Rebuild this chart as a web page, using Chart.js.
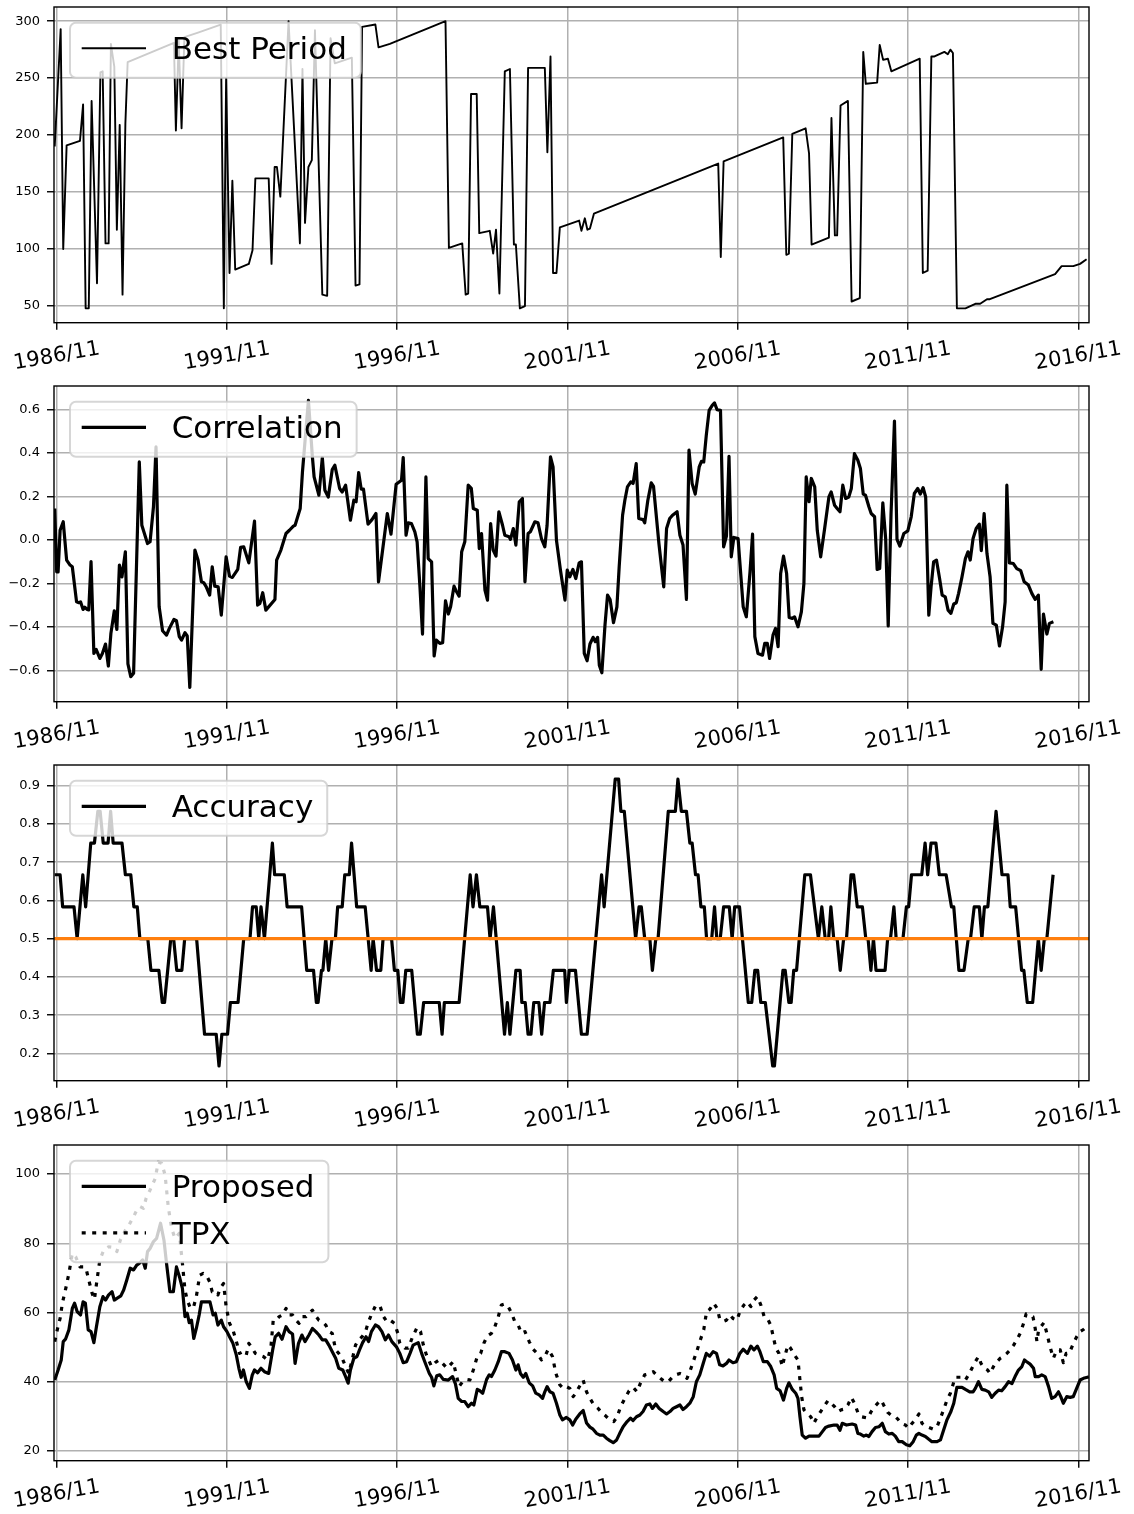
<!DOCTYPE html>
<html>
<head>
<meta charset="utf-8">
<script src="https://cdn.jsdelivr.net/npm/chart.js@4.4.0/dist/chart.umd.min.js"></script>
<style>
  html, body { margin: 0; padding: 0; background: #ffffff; }
  #wrap { position: relative; width: 1134px; height: 1514px; overflow: hidden; background: #ffffff; }
  #wrap canvas { position: absolute; left: 0; }
</style>
</head>
<body>
<div id="wrap">
  <canvas id="cBest" width="1134" height="376" style="top:0px"></canvas>
  <canvas id="cCorr" width="1134" height="376" style="top:379px"></canvas>
  <canvas id="cAcc"  width="1134" height="376" style="top:758px"></canvas>
  <canvas id="cPerf" width="1134" height="376" style="top:1138px"></canvas>
</div>
<script>
// ---- data: x = months since 1986/11 ----
const tickMonths = [0, 60, 120, 180, 240, 300, 360];
const tickLabels = ['1986/11', '1991/11', '1996/11', '2001/11', '2006/11', '2011/11', '2016/11'];

const bestPeriod = [
  [-0.7,190],[1.4,293],[2.3,100],[3.5,191],[8.2,195],[9.3,227],[10.2,48],[11.3,48],[12.3,230],[14.2,70],
  [15.4,255],[16.2,256],[17.2,105],[18.3,105],[19.1,280],[20.3,260],[21.2,117],[22.2,209],[23.2,60],[24.2,210],
  [25.0,264],[41.3,281],[42.0,204],[43.0,283],[44.0,206],[45.0,286],[49.8,290],[57.8,297],[58.9,48],[59.7,250],
  [60.9,79],[61.9,160],[62.9,82],[67.7,87],[69.0,99],[70.0,162],[74.7,162],[75.7,87],[76.8,172],[77.6,172],
  [78.8,146],[81.7,300],[85.7,105],[86.6,258],[87.5,123],[88.7,172],[89.9,178],[91.0,292],[93.6,60],[95.3,59],
  [96.5,285],[98.0,263],[104.0,268],[105.3,68],[106.7,69],[107.6,295],[112.3,297],[113.4,277],[117.4,280],[137.0,300],
  [138.2,101],[142.9,105],[144.1,60],[145.0,61],[146.0,236],[148.0,236],[148.9,114],[152.6,116],[153.8,96],[154.8,117],
  [156.0,61],[157.9,256],[159.7,258],[161.1,104],[161.8,104],[163.2,48],[165.0,50],[166.1,259],[172.0,259],[172.9,185],
  [174.0,269],[174.9,79],[176.1,79],[177.3,119],[184.1,125],[184.9,116],[186.1,127],[187.0,117],[187.9,118],[189.3,131],
  [233.1,175],[234.0,93],[235.0,177],[256.0,198],[257.1,95],[258.0,96],[259.2,201],[263.9,206],[265.1,184],[266.0,104],
  [272.1,110],[273.0,215],[274.2,112],[275.0,112],[276.2,226],[278.8,230],[280.1,54],[283.0,57],[284.2,273],[285.1,245],
  [289.1,246],[290.0,279],[291.2,266],[292.9,267],[294.1,256],[304.1,267],[305.2,79],[306.9,81],[308.2,269],[309.3,269],
  [312.8,273],[314.0,271],[314.9,275],[315.8,272],[317.2,48],[320.2,48],[323.7,52],[325.4,52],[327.8,56],[328.8,56],
  [351.8,78],[354.1,85],[358.2,85],[360.6,87],[362.9,91]
];

const correlation = [
  [-0.7,0.144],[0,-0.147],[0.5,-0.147],[1.2,0.044],[2.3,0.083],[3.5,-0.093],[4.7,-0.116],[5.5,-0.124],[7.0,-0.285],[7.8,-0.289],
  [8.4,-0.285],[9.3,-0.32],[9.9,-0.31],[10.7,-0.32],[11.3,-0.322],[12.1,-0.10],[13.1,-0.522],[13.9,-0.504],[15.2,-0.545],[16.1,-0.522],
  [17.2,-0.479],[18.2,-0.58],[19.1,-0.43],[20.3,-0.326],[21.2,-0.412],[22.1,-0.116],[23.0,-0.17],[24.2,-0.055],[25.1,-0.57],[26.1,-0.629],
  [27.1,-0.613],[29.1,0.358],[30.0,0.067],[32.0,-0.017],[32.9,-0.009],[34.1,0.152],[35.0,0.427],[36.1,-0.308],[37.3,-0.418],[38.7,-0.438],
  [39.7,-0.407],[41.3,-0.366],[42.2,-0.372],[43.2,-0.445],[44.0,-0.461],[45.2,-0.427],[46.0,-0.442],[46.9,-0.678],[48.7,-0.047],[49.8,-0.093],
  [51.0,-0.193],[51.8,-0.197],[52.7,-0.216],[53.9,-0.254],[54.8,-0.124],[55.7,-0.213],[56.9,-0.216],[58.0,-0.346],[59.7,-0.078],[60.9,-0.167],
  [61.9,-0.173],[63.8,-0.136],[64.8,-0.035],[65.9,-0.032],[67.7,-0.106],[69.7,0.086],[70.8,-0.30],[71.6,-0.292],[72.6,-0.243],[73.7,-0.323],
  [76.9,-0.274],[77.5,-0.093],[79.0,-0.047],[80.8,0.029],[82.0,0.044],[83.4,0.063],[84.0,0.067],[85.8,0.144],[86.6,0.312],[88.7,0.641],
  [90.1,0.381],[90.7,0.289],[92.4,0.205],[93.6,0.378],[94.5,0.228],[95.7,0.197],[97.1,0.323],[98.0,0.343],[99.7,0.236],[100.6,0.22],
  [101.8,0.251],[103.5,0.09],[104.7,0.182],[105.5,0.175],[106.4,0.309],[107.3,0.233],[108.1,0.233],[109.7,0.072],[111.1,0.093],[112.5,0.121],
  [113.4,-0.193],[116.5,0.121],[117.8,0.026],[119.6,0.255],[121.5,0.274],[122.1,0.378],[123.1,0.021],[123.9,0.078],[125.0,0.075],[126.2,0.037],
  [127.0,-0.009],[128.0,-0.216],[128.9,-0.433],[130.1,0.289],[130.9,-0.086],[132.1,-0.101],[133.0,-0.534],[133.8,-0.461],[135.0,-0.476],[136.0,-0.473],
  [137.0,-0.28],[138.0,-0.341],[138.8,-0.308],[140.0,-0.213],[140.7,-0.234],[141.8,-0.259],[142.7,-0.055],[143.8,-0.009],[145.0,0.251],[146.1,0.236],
  [146.8,0.144],[148.2,0.136],[148.9,-0.04],[149.7,0.029],[150.9,-0.231],[151.8,-0.277],[152.9,0.075],[153.8,-0.047],[154.8,-0.075],[155.8,0.129],
  [157.1,0.067],[157.9,0.021],[159.4,0.014],[159.9,0.002],[160.9,0.052],[161.8,-0.024],[163.0,0.175],[164.1,0.19],[165.0,-0.193],[166.1,0.029],
  [166.9,0.037],[168.5,0.083],[169.6,0.078],[170.8,0.006],[172.0,-0.032],[172.8,0.067],[174.0,0.381],[174.9,0.335],[176.1,-0.002],[177.5,-0.139],
  [179.1,-0.277],[179.9,-0.139],[180.8,-0.17],[181.9,-0.136],[182.9,-0.178],[184.1,-0.106],[184.9,-0.101],[185.9,-0.522],[186.9,-0.556],[187.9,-0.479],
  [189.0,-0.448],[189.8,-0.468],[190.6,-0.448],[191.2,-0.576],[192.1,-0.611],[193.2,-0.392],[194.1,-0.254],[195.0,-0.274],[196.2,-0.381],[197.4,-0.308],
  [198.2,-0.124],[199.4,0.113],[200.2,0.182],[201.1,0.243],[202.3,0.266],[203.1,0.259],[204.2,0.35],[205.1,0.098],[206.6,0.093],[207.2,0.078],
  [208.3,0.182],[209.5,0.262],[210.3,0.246],[212.2,-0.017],[213.9,-0.216],[214.9,0.052],[216.0,0.098],[217.0,0.113],[218.6,0.129],[219.6,0.021],
  [220.7,-0.024],[221.9,-0.274],[222.8,0.412],[223.9,0.259],[225.0,0.21],[226.4,0.335],[227.2,0.361],[228.0,0.358],[228.9,0.481],[229.9,0.595],
  [231.0,0.618],[231.8,0.629],[232.7,0.598],[233.9,0.595],[235.0,-0.032],[236.0,0.017],[236.9,0.384],[237.7,-0.078],[238.6,0.011],[240.1,0.006],
  [241.9,-0.308],[243.0,-0.354],[244.3,-0.147],[245.2,0.026],[246.0,-0.445],[247.1,-0.522],[248.7,-0.53],[249.5,-0.476],[250.4,-0.476],[251.2,-0.545],
  [252.4,-0.438],[253.3,-0.407],[254.2,-0.491],[255.1,-0.155],[256.1,-0.075],[257.2,-0.155],[258.1,-0.357],[259.2,-0.361],[260.0,-0.354],[261.2,-0.40],
  [262.4,-0.331],[263.3,-0.20],[264.1,0.289],[265.1,0.175],[265.9,0.282],[267.1,0.243],[268.0,0.044],[269.2,-0.078],[270.6,0.052],[272.1,0.197],
  [272.9,0.22],[274.1,0.159],[275.0,0.144],[276.0,0.129],[277.0,0.251],[278.0,0.19],[279.1,0.197],[280.0,0.236],[281.1,0.396],[282.3,0.366],
  [283.2,0.328],[284.2,0.21],[285.0,0.205],[286.2,0.152],[287.0,0.121],[288.2,0.106],[289.1,-0.136],[290.0,-0.132],[291.1,0.17],[292.1,0.006],
  [293.0,-0.396],[294.0,0.121],[295.2,0.546],[296.1,0.002],[297.1,-0.029],[298.5,0.029],[299.9,0.041],[301.1,0.106],[302.2,0.213],[303.4,0.236],
  [304.3,0.21],[305.3,0.24],[306.2,0.197],[307.3,-0.346],[308.1,-0.216],[309.0,-0.101],[310.0,-0.093],[311.1,-0.178],[312.0,-0.254],[313.1,-0.262],
  [314.1,-0.323],[315.1,-0.338],[316.1,-0.295],[317.0,-0.289],[317.8,-0.246],[319.0,-0.17],[320.2,-0.086],[321.1,-0.055],[321.9,-0.093],[322.9,0.006],
  [324.0,0.052],[325.1,0.072],[325.8,-0.05],[326.8,0.121],[327.8,-0.063],[328.9,-0.17],[329.9,-0.384],[331.1,-0.392],[332.2,-0.488],[333.3,-0.40],
  [334.2,-0.285],[334.8,0.251],[335.7,-0.106],[337.1,-0.109],[338.3,-0.132],[339.7,-0.142],[340.9,-0.193],[342.4,-0.208],[343.6,-0.246],[344.8,-0.274],
  [345.9,-0.254],[346.9,-0.595],[347.7,-0.341],[348.9,-0.433],[349.8,-0.384],[351.2,-0.377]
];

const accuracy = [
  [-0.7,0.667],[1.2,0.667],[2.1,0.583],[6.1,0.583],[7.2,0.5],[9.2,0.667],[10.2,0.583],[12.0,0.75],[13.3,0.75],[14.5,0.833],
  [15.3,0.833],[16.4,0.75],[18.1,0.75],[19.0,0.833],[19.9,0.75],[23.0,0.75],[24.2,0.667],[26.1,0.667],[27.2,0.583],[28.4,0.583],
  [29.3,0.5],[32.1,0.5],[33.2,0.417],[36.0,0.417],[37.2,0.333],[38.0,0.333],[40.2,0.5],[41.2,0.5],[42.3,0.417],[44.1,0.417],
  [45.1,0.5],[49.3,0.5],[52.1,0.25],[56.2,0.25],[57.2,0.167],[58.2,0.25],[60.2,0.25],[61.2,0.333],[63.9,0.333],[65.9,0.5],
  [68.1,0.5],[69.0,0.583],[70.3,0.583],[71.2,0.5],[72.0,0.583],[73.2,0.5],[76.0,0.75],[76.8,0.667],[80.2,0.667],[81.2,0.583],
  [86.3,0.583],[88.1,0.417],[90.5,0.417],[91.5,0.333],[92.1,0.333],[93.3,0.417],[93.8,0.417],[94.8,0.5],[95.8,0.417],[97.0,0.5],
  [98.2,0.5],[99.0,0.583],[100.6,0.583],[101.5,0.667],[103.1,0.667],[103.9,0.75],[105.7,0.583],[108.7,0.583],[110.8,0.417],[111.5,0.5],
  [112.7,0.417],[114.2,0.417],[115.0,0.5],[118.0,0.5],[119.0,0.417],[120.2,0.417],[121.1,0.333],[122.0,0.333],[123.0,0.417],[125.1,0.417],
  [127.1,0.25],[128.1,0.25],[129.3,0.333],[134.8,0.333],[135.8,0.25],[136.6,0.333],[141.8,0.333],[145.7,0.667],[146.7,0.583],[147.9,0.667],
  [149.1,0.583],[151.8,0.583],[152.7,0.5],[153.9,0.583],[157.8,0.25],[158.8,0.333],[159.7,0.25],[161.8,0.417],[163.3,0.417],[163.9,0.333],
  [165.1,0.333],[166.1,0.25],[167.1,0.25],[168.1,0.333],[169.9,0.333],[170.9,0.25],[171.9,0.333],[173.8,0.333],[175.0,0.417],[179.0,0.417],
  [179.6,0.333],[180.6,0.417],[182.8,0.417],[184.9,0.25],[186.9,0.25],[192.0,0.667],[192.9,0.583],[196.8,0.917],[198.0,0.917],[198.8,0.833],
  [200.0,0.833],[204.0,0.5],[205.2,0.583],[206.0,0.583],[207.2,0.5],[209.0,0.5],[209.9,0.417],[211.1,0.5],[211.9,0.5],[215.5,0.833],
  [218.0,0.833],[218.9,0.917],[220.1,0.833],[221.9,0.833],[223.1,0.75],[223.9,0.75],[225.1,0.667],[226.0,0.667],[227.0,0.583],[228.2,0.583],
  [229.0,0.5],[230.8,0.5],[231.8,0.583],[232.6,0.5],[233.8,0.5],[235.0,0.583],[237.0,0.583],[238.0,0.5],[238.9,0.583],[240.6,0.583],
  [243.7,0.333],[244.9,0.333],[246.0,0.417],[247.0,0.417],[248.1,0.333],[249.7,0.333],[252.3,0.167],[252.9,0.167],[255.9,0.417],[256.7,0.417],
  [258.0,0.333],[258.8,0.333],[259.7,0.417],[260.7,0.417],[263.6,0.667],[265.6,0.667],[268.4,0.5],[269.6,0.583],[270.8,0.5],[272.0,0.5],
  [272.8,0.583],[273.8,0.5],[275.0,0.5],[276.1,0.417],[277.3,0.5],[278.3,0.5],[279.9,0.667],[280.8,0.667],[282.1,0.583],[283.9,0.583],
  [285.1,0.5],[285.9,0.5],[286.9,0.417],[287.8,0.5],[288.7,0.417],[291.9,0.417],[292.8,0.5],[293.8,0.5],[295.0,0.583],[295.8,0.5],
  [298.2,0.5],[299.4,0.583],[300.2,0.583],[301.2,0.667],[304.8,0.667],[306.0,0.75],[306.9,0.667],[308.1,0.75],[309.8,0.75],[311.0,0.667],
  [313.4,0.667],[315.3,0.583],[316.1,0.583],[317.9,0.417],[319.7,0.417],[321.2,0.5],[322.0,0.5],[323.3,0.583],[325.1,0.583],[326.0,0.5],
  [326.9,0.583],[328.1,0.583],[331.0,0.833],[333.1,0.667],[335.2,0.667],[336.0,0.583],[337.9,0.583],[340.0,0.417],[340.8,0.417],[342.0,0.333],
  [343.9,0.333],[345.9,0.5],[346.9,0.417],[348.0,0.5],[348.9,0.5],[351.1,0.667]
];
const accuracyBaseline = 0.5;

const proposed = [
  [-0.7,40.5],[0.5,43.4],[1.6,46.3],[2.3,51.6],[3.1,52.3],[4.3,55],[5.5,61.2],[6.3,62.7],[7.2,60.3],[8.4,59.3],
  [9.3,63.1],[10.1,62.7],[11.1,55],[12.1,54.5],[13.1,51.3],[14.0,55.9],[15.2,61.7],[16.3,64.6],[17.2,63.6],[18.3,65.1],
  [19.5,66],[20.3,63.6],[21.2,64.1],[22.6,64.8],[23.6,66.5],[24.7,69.4],[25.9,72.8],[27.1,72.3],[28.2,73.7],[29.4,74.4],
  [30.3,75.2],[31.2,72.8],[32.0,77.6],[32.9,78.5],[34.1,80.5],[35.2,81.4],[36.6,85.8],[37.8,80.9],[38.7,74.2],[39.9,66],
  [41.1,66],[42.2,73.2],[43.4,69.9],[44.3,67],[45.2,58.8],[46.0,59.8],[46.7,57.1],[47.5,57.8],[48.3,52.5],[49.2,55.4],
  [50.2,59.3],[51.0,63.1],[52.7,63.1],[54.0,63.1],[55.1,59.3],[55.9,59.8],[56.8,56.4],[58.0,57.8],[58.8,55.9],[60.0,54.5],
  [60.9,53],[62.1,51.1],[63.3,47.7],[64.2,43.9],[65.0,41.3],[65.8,43.4],[66.8,40],[67.9,38.1],[68.9,41.9],[69.7,43.4],
  [70.8,42.6],[72.0,43.9],[73.2,42.9],[74.7,42.4],[76.1,49.2],[77.0,53],[78.2,54],[79.4,52.3],[80.8,55.9],[81.9,54.5],
  [83.1,53.8],[84.0,45.3],[85.2,51.1],[86.4,53.5],[87.5,51.6],[88.9,53.5],[90.1,55.4],[91.3,54.5],[92.4,53.5],[93.6,52.1],
  [94.8,52.1],[95.9,50.6],[97.1,48.7],[98.3,46.8],[99.4,43.9],[100.8,43.4],[101.8,41.5],[102.7,39.6],[103.5,43.4],[104.7,46.8],
  [105.8,47.3],[106.7,49.2],[107.8,51.3],[109.0,53],[109.9,51.6],[110.9,54.5],[112.3,56.4],[113.4,55.9],[114.6,54.5],[115.8,52.1],
  [116.9,53.5],[118.1,51.6],[119.8,50],[120.9,48.2],[122.1,45.5],[123.3,45.8],[124.5,48.2],[125.6,50.6],[127.4,51.3],[128.6,48.2],
  [129.7,45.8],[131.3,42.4],[132.1,41.3],[132.9,38.8],[133.9,41.7],[135.0,42],[136.2,40.7],[138.0,40.5],[139.5,41.5],[140.5,39.4],
  [141.5,35.2],[142.7,34.3],[143.8,34.3],[145.0,32.8],[146.2,33.8],[147.0,33.3],[148.2,37.8],[149.1,37.4],[150.1,36.7],[151.5,40.7],
  [152.4,42],[153.2,41.5],[154.4,43.4],[155.6,45.8],[156.7,48.7],[157.9,48.7],[159.4,48.2],[160.6,46.3],[161.8,43.4],[162.6,44.9],
  [163.4,42.4],[164.4,41.3],[165.3,42.4],[166.5,39.7],[167.7,38.8],[168.8,36.7],[170.0,36.2],[171.2,35.2],[172.0,37.1],[172.8,38.6],
  [173.8,37.1],[174.9,36.7],[176.1,33.8],[177.3,30.4],[178.2,29],[179.6,29.7],[180.8,29],[181.8,27.5],[182.9,29.2],[184.3,30.7],
  [185.5,31.7],[186.7,28.1],[187.9,26.9],[189.0,26.3],[190.2,25.1],[191.4,24.6],[192.6,24.6],[193.7,23.7],[194.9,23],[196.1,22.4],
  [197.3,23.2],[198.4,25.1],[199.6,27],[201.0,28.5],[202.2,29.5],[203.1,28.8],[204.3,29.9],[205.5,30.4],[206.6,31.4],[207.8,33.3],
  [209.0,33.6],[209.9,32.3],[211.1,33.6],[212.3,32.3],[213.7,31.4],[214.9,30.7],[216.1,31.4],[217.2,32.3],[218.4,32.8],[219.6,33.3],
  [220.7,32],[221.9,32.8],[223.1,33.8],[224.3,35.7],[225.4,40],[226.6,42],[227.8,45.3],[228.9,48.2],[230.1,47.4],[231.3,48.7],
  [232.5,48.2],[233.6,44.9],[234.8,44.6],[236.0,45.3],[236.9,46.3],[238.3,45.5],[239.5,45.8],[240.7,48.2],[241.9,49.4],[243.4,48.2],
  [244.6,50.3],[245.7,49.2],[246.9,50.3],[247.8,48.7],[249.0,45.8],[250.4,45.8],[251.6,44.4],[252.8,42],[253.7,38.1],[254.9,37.4],
  [256.1,34.7],[257.2,38.1],[258.0,39.7],[259.2,37.8],[260.4,36.7],[261.2,35.2],[261.9,29.9],[262.7,24.6],[263.9,23.7],[265.1,24.3],
  [266.8,24.3],[268.6,24.3],[269.8,25.6],[270.9,26.8],[272.1,27.2],[273.9,27.5],[275.0,27.5],[276.0,26],[276.8,28],[278.3,27.5],
  [280.3,27.8],[281.5,27.5],[282.3,25.1],[283.2,24.9],[284.4,24.3],[285.3,24.6],[286.2,24.2],[287.3,25.6],[288.5,26.8],[289.7,27],
  [290.9,28],[292.0,25.6],[293.2,24.9],[294.4,25.1],[295.5,24.3],[296.7,22.7],[297.9,22.7],[299.4,21.8],[300.6,21.5],[301.8,22.7],
  [302.9,24.6],[303.8,25.1],[304.9,24.6],[306.1,24.2],[307.3,23.4],[308.4,22.7],[310.2,22.7],[311.4,23.2],[312.5,26],[313.7,29],
  [315.1,31.4],[316.1,33.8],[317.2,38.4],[319.0,38.4],[320.2,37.8],[321.7,37.1],[322.9,37.1],[323.7,38.1],[324.8,40],[326.0,37.8],
  [327.2,37.6],[328.4,37.1],[329.5,35.5],[330.7,36.7],[331.9,37.6],[333.0,37.4],[334.2,38.6],[335.4,40],[336.6,39.5],[337.7,41.5],
  [338.9,43.4],[340.1,44.4],[341.0,46.3],[341.8,45.8],[343.0,45.1],[344.2,43.9],[344.8,41.5],[346.0,41.5],[347.1,42],[348.3,41.5],
  [349.5,38.6],[350.6,35.2],[351.8,35.7],[353.0,37.1],[353.8,35.7],[354.7,33.8],[355.9,35.7],[357.1,35.5],[358.2,35.7],[359.4,38.1],
  [360.6,40.5],[361.8,41],[363.2,41.3],[363.7,41.4]
];

const tpx = [
  [-0.7,51.6],[0.2,55],[1.2,58.3],[2.0,62.7],[3.2,67],[4.3,71.3],[5.5,77.1],[6.7,76.1],[8.2,73.2],[9.5,73.2],
  [10.3,72.8],[11.3,69.4],[12.5,65.5],[13.3,63.8],[14.2,69.4],[15.2,75.2],[16.6,78.1],[18.3,79],[20.1,78.8],[21.2,77.6],
  [22.4,80.9],[24.2,83.8],[25.3,85],[27.1,87.7],[28.2,89.6],[29.4,90.6],[30.6,90.1],[31.5,93],[32.9,95.4],[34.7,98.7],
  [35.8,103.5],[37.0,103.1],[38.2,99.7],[39.3,90.6],[40.5,84.3],[41.7,81.4],[43.2,82.9],[44.3,74.2],[45.2,66.5],[46.0,63.6],
  [46.9,61.7],[48.1,61.2],[49.2,64.6],[50.4,70.8],[51.6,71.3],[52.7,70.8],[53.9,68.9],[54.8,66],[55.9,66],[56.8,65.1],
  [57.6,67],[58.8,68.4],[59.7,61.7],[60.9,56.9],[62.1,55],[63.5,51.1],[64.4,48.2],[65.6,48.7],[66.8,47.7],[67.7,51.1],
  [68.9,49.7],[70.0,48.2],[71.4,47.7],[72.8,47.3],[74.3,46.3],[75.5,50.2],[76.3,57.8],[77.3,57.8],[78.4,58.8],[79.6,59.3],
  [80.8,61.2],[81.7,59.3],[83.1,59.3],[84.3,57.8],[85.4,56.9],[86.6,58.8],[87.8,58.8],[88.9,59.8],[90.1,60.7],[91.0,59.3],
  [92.4,57.8],[93.6,57.4],[94.8,56.4],[95.9,54.5],[97.1,54],[98.3,49.2],[99.4,48.2],[100.6,46.8],[101.8,44.4],[102.9,42.4],
  [104.1,46.3],[105.3,50.6],[106.4,52.1],[107.6,53],[108.8,54.5],[109.9,57.4],[111.1,59.8],[112.5,62.2],[114.0,61.7],[115.2,58.8],
  [116.3,57.4],[117.5,57.8],[119.0,56.9],[120.2,54],[120.9,51.1],[122.7,49.7],[123.9,49.7],[125.4,53],[127.0,55.7],[128.2,54.5],
  [129.2,50.6],[130.3,47.7],[132.1,44.4],[133.3,45.5],[134.8,46.3],[136.2,45.1],[137.6,43.9],[139.7,45.8],[140.7,42.4],[141.8,38.6],
  [143.0,40],[144.2,40.7],[145.6,40.5],[146.8,43.4],[148.2,47.3],[149.4,48.2],[150.5,51.1],[151.7,53.2],[153.2,54],[154.4,55.9],
  [155.6,58.8],[156.7,62.2],[157.9,62.5],[159.1,61.7],[160.3,59.8],[161.4,57.4],[162.6,56.4],[163.8,54],[165.0,54.5],[166.5,51.6],
  [167.9,49.4],[169.3,48.2],[170.8,46.3],[172.0,47.3],[173.2,49.4],[174.7,47.3],[175.9,42.4],[177.3,39.1],[178.5,38.1],[179.6,38.6],
  [180.8,38.1],[182.0,35.7],[182.9,36.7],[184.3,38.8],[185.5,40.5],[186.7,37.1],[187.9,35.2],[189.3,33.3],[190.8,32.3],[192.0,31.1],
  [193.5,30.1],[194.9,29],[196.3,28.5],[197.5,29.9],[198.7,32.8],[200.2,35.2],[201.7,37.4],[203.1,38.4],[204.5,37.1],[205.7,39.6],
  [207.2,42],[208.8,42.3],[210.2,42.9],[211.3,42],[212.7,41],[214.3,40],[215.5,40],[216.9,41.3],[218.1,42],[219.6,42.4],
  [221.0,42],[222.1,41],[223.3,43.4],[224.5,46.3],[225.7,49.2],[226.8,52.1],[228.0,55],[229.0,60.3],[230.1,60.9],[231.5,62.7],
  [232.7,61.2],[233.6,58.3],[234.8,57.4],[236.0,57.8],[237.2,59.3],[238.3,58.3],[239.7,57.8],[240.9,60.7],[242.2,62.2],[243.4,63.1],
  [244.6,61.7],[245.7,63.6],[246.9,64.6],[248.1,62.2],[249.3,58.8],[250.4,58.3],[251.6,56.4],[252.5,53],[253.4,49.7],[254.5,48.2],
  [255.7,44.4],[256.5,47.3],[257.7,50.6],[258.6,49.7],[260.0,47.7],[261.2,46.3],[261.9,40.5],[262.5,35.7],[263.3,31.9],[264.5,30.7],
  [265.7,29.9],[266.8,28],[268.0,29.9],[269.2,31.4],[270.3,32.8],[271.8,34.6],[272.9,33.8],[274.1,32.8],[275.3,31.4],[276.4,31.9],
  [277.6,32.1],[278.8,33.3],[280.0,35.5],[281.1,33.8],[282.3,31.1],[283.5,29.9],[284.6,29.7],[285.8,29.5],[287.0,31.4],[288.2,32.8],
  [289.3,33.8],[290.5,34.7],[291.7,32.8],[292.9,31.1],[294.0,30.4],[295.2,30.1],[296.4,29.2],[297.5,28],[299.1,27.5],[300.2,26.6],
  [301.4,28],[302.6,29],[303.8,30.7],[304.9,28],[306.1,27.2],[307.3,26.8],[308.8,26.3],[310.2,27],[311.4,29.5],[312.5,31.9],
  [313.7,34.7],[314.9,36.7],[315.8,39.1],[316.6,41.3],[317.8,41.3],[319.0,41.3],[320.2,40.5],[321.3,42],[322.5,43.9],[323.7,45.8],
  [324.8,47.3],[325.7,45.3],[326.8,43.9],[328.0,43.4],[328.9,42.4],[330.1,44.4],[331.3,45.8],[332.5,46.8],[333.6,47.3],[334.8,48.2],
  [336.0,49.2],[337.2,50.6],[338.3,52.1],[339.5,54],[340.7,56.9],[341.6,59.6],[342.8,59.3],[344.0,58.8],[344.8,55.4],[345.4,51.6],
  [345.9,54.5],[346.8,55.9],[347.9,57.1],[348.9,54],[350.0,50.2],[351.2,46.8],[352.4,49.2],[353.6,49.2],[354.7,45.5],[355.7,48.2],
  [356.8,48.2],[358.0,50.6],[359.4,53],[360.6,54.5],[361.8,55.1],[362.9,55.9],[363.7,56]
];

const bestTicks = [50, 100, 150, 200, 250, 300];
const corrTicks = [-0.6, -0.4, -0.2, 0.0, 0.2, 0.4, 0.6];
const accTicks  = [0.2, 0.3, 0.4, 0.5, 0.6, 0.7, 0.8, 0.9];
const perfTicks = [20, 40, 60, 80, 100];

// ---- layout ----
const FONT = "'DejaVu Sans', 'Liberation Sans', sans-serif";
const CANVAS_W = 1134, CANVAS_H = 376;
const PLOT_LEFT = 54, PLOT_RIGHT = 1089, PLOT_TOP = 7, PLOT_H = 315.7;
const X_MIN = -0.95, X_MAX = 363.75;
const GRID = '#b0b0b0';

function toPoints(pairs) { return pairs.map(p => ({ x: p[0], y: p[1] })); }

function roundedRect(ctx, x, y, w, h, r) {
  ctx.beginPath();
  ctx.moveTo(x + r, y);
  ctx.arcTo(x + w, y, x + w, y + h, r);
  ctx.arcTo(x + w, y + h, x, y + h, r);
  ctx.arcTo(x, y + h, x, y, r);
  ctx.arcTo(x, y, x + w, y, r);
  ctx.closePath();
}

// frame, rotated date labels and the in-plot legend
const framePlugin = {
  id: 'frame',
  afterDraw(chart, args, opts) {
    const { ctx, chartArea: a, scales } = chart;
    ctx.save();
    ctx.strokeStyle = '#000';
    ctx.lineWidth = 1.4;
    ctx.strokeRect(a.left, a.top, a.right - a.left, a.bottom - a.top);

    // x tick labels, rotated 10 degrees and centred under each tick
    const rot = 10 * Math.PI / 180;
    const fs = 21;
    ctx.font = fs + 'px ' + FONT;
    ctx.fillStyle = '#000';
    ctx.textAlign = 'center';
    ctx.textBaseline = 'middle';
    tickMonths.forEach((m, i) => {
      const x = scales.x.getPixelForValue(m);
      const w = ctx.measureText(tickLabels[i]).width;
      const bh = w * Math.sin(rot) + fs * 1.17 * Math.cos(rot);
      const cy = a.bottom + 14 + bh / 2;
      ctx.save();
      ctx.translate(x, cy);
      ctx.rotate(-rot);
      ctx.fillText(tickLabels[i], 0, 0);
      ctx.restore();
    });

    // legend
    const entries = opts.entries || [];
    if (entries.length) {
      const lfs = 31;
      ctx.font = lfs + 'px ' + FONT;
      const textW = Math.max(...entries.map(e => ctx.measureText(e.label).width));
      const bx = a.left + 16, by = a.top + 15.7;
      const bw = 101.7 + textW + 14;
      const bh = 55 + (entries.length - 1) * 46.6;
      ctx.globalAlpha = 0.8;
      roundedRect(ctx, bx, by, bw, bh, 6);
      ctx.fillStyle = '#ffffff';
      ctx.fill();
      ctx.lineWidth = 2;
      ctx.strokeStyle = '#cccccc';
      ctx.stroke();
      ctx.globalAlpha = 1;
      entries.forEach((e, i) => {
        const ly = by + 25.6 + i * 46.6;
        ctx.beginPath();
        ctx.setLineDash(e.dash || []);
        ctx.lineWidth = e.width;
        ctx.strokeStyle = e.color;
        ctx.lineCap = 'butt';
        ctx.moveTo(bx + 11.7, ly);
        ctx.lineTo(bx + 76, ly);
        ctx.stroke();
        ctx.setLineDash([]);
        ctx.fillStyle = '#000';
        ctx.textAlign = 'left';
        ctx.textBaseline = 'alphabetic';
        ctx.fillText(e.label, bx + 101.7, ly + 10.8);
      });
    }
    ctx.restore();
  }
};

function zeroPadding(s) {
  s.paddingLeft = 0; s.paddingRight = 0; s.paddingTop = 0; s.paddingBottom = 0;
}

function makeChart(id, datasets, yMin, yMax, yTicks, yFormat, legendEntries) {
  return new Chart(document.getElementById(id), {
    type: 'line',
    data: { datasets },
    options: {
      responsive: false,
      animation: false,
      devicePixelRatio: 1,
      events: [],
      layout: { padding: { top: PLOT_TOP, left: 0, right: CANVAS_W - PLOT_RIGHT, bottom: 0 } },
      plugins: {
        legend: { display: false },
        tooltip: { enabled: false },
        frame: { entries: legendEntries }
      },
      elements: {
        point: { radius: 0, hoverRadius: 0 },
        line: { tension: 0, borderJoinStyle: 'round', borderCapStyle: 'butt' }
      },
      scales: {
        x: {
          type: 'linear',
          bounds: 'data',
          min: X_MIN,
          max: X_MAX,
          border: { display: false },
          grid: { color: GRID, lineWidth: 1.5, drawTicks: true, tickLength: 7, tickColor: '#000', tickWidth: 1.4 },
          ticks: { display: false },
          afterBuildTicks(s) { s.ticks = tickMonths.map(v => ({ value: v })); },
          afterFit(s) { s.height = CANVAS_H - PLOT_TOP - PLOT_H; zeroPadding(s); }
        },
        y: {
          type: 'linear',
          bounds: 'data',
          min: yMin,
          max: yMax,
          border: { display: false },
          grid: { color: GRID, lineWidth: 1.5, drawTicks: true, tickLength: 7, tickColor: '#000', tickWidth: 1.4 },
          ticks: {
            color: '#000',
            padding: 7,
            font: { family: FONT, size: 13 },
            callback: (v) => yFormat(v)
          },
          afterBuildTicks(s) { s.ticks = yTicks.map(v => ({ value: v })); },
          afterFit(s) { s.width = PLOT_LEFT; zeroPadding(s); }
        }
      }
    },
    plugins: [framePlugin]
  });
}

const fmtInt = v => String(Math.round(v));
const fmtDec = v => (Math.abs(v) < 1e-9 ? '0.0' : v.toFixed(1).replace('-', '\u2212'));

makeChart('cBest',
  [{ label: 'Best Period', data: toPoints(bestPeriod), borderColor: '#000', borderWidth: 1.9, fill: false }],
  35.4, 312.4, bestTicks, fmtInt,
  [{ label: 'Best Period', color: '#000', width: 1.9 }]);

makeChart('cCorr',
  [{ label: 'Correlation', data: toPoints(correlation), borderColor: '#000', borderWidth: 3.2, fill: false }],
  -0.744, 0.707, corrTicks, fmtDec,
  [{ label: 'Correlation', color: '#000', width: 3.2 }]);

makeChart('cAcc',
  [
    { label: 'baseline', data: [{ x: X_MIN, y: accuracyBaseline }, { x: X_MAX, y: accuracyBaseline }],
      borderColor: '#ff7f0e', borderWidth: 3.2, fill: false, order: 0 },
    { label: 'Accuracy', data: toPoints(accuracy), borderColor: '#000', borderWidth: 3.2, fill: false, order: 1 }
  ],
  0.1286, 0.954, accTicks, fmtDec,
  [{ label: 'Accuracy', color: '#000', width: 3.2 }]);

makeChart('cPerf',
  [
    { label: 'TPX', data: toPoints(tpx), borderColor: '#000', borderWidth: 3.2, borderDash: [4, 6.5], fill: false, order: 0 },
    { label: 'Proposed', data: toPoints(proposed), borderColor: '#000', borderWidth: 3.2, fill: false, order: 1 }
  ],
  17.2, 108.4, perfTicks, fmtInt,
  [{ label: 'Proposed', color: '#000', width: 3.2 }, { label: 'TPX', color: '#000', width: 3.2, dash: [4, 6.5] }]);
</script>
</body>
</html>
